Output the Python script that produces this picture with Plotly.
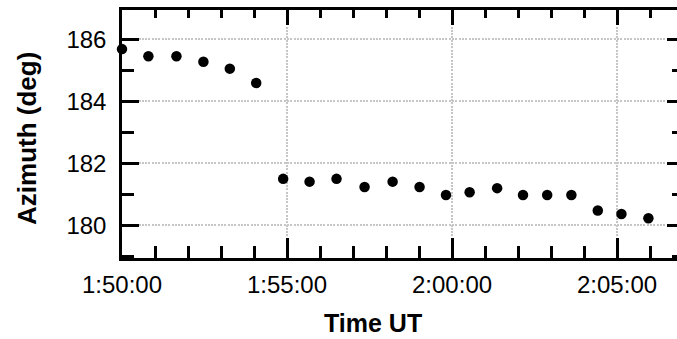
import plotly.graph_objects as go

# ---- data ----
times = ["01:50:00", "01:50:48", "01:51:39", "01:52:28", "01:53:16", "01:54:04",
         "01:54:53", "01:55:41", "01:56:30", "01:57:21", "01:58:12", "01:59:01",
         "01:59:49", "02:00:32", "02:01:22", "02:02:09", "02:02:53", "02:03:37",
         "02:04:25", "02:05:08", "02:05:57"]
azimuth = [185.68, 185.45, 185.45, 185.27, 185.05, 184.59,
           181.50, 181.41, 181.50, 181.24, 181.41, 181.24,
           180.98, 181.07, 181.20, 180.98, 180.98, 180.98,
           180.48, 180.37, 180.23]
y_ticks = [180, 182, 184, 186]
x_tick_times = ["01:50:00", "01:55:00", "02:00:00", "02:05:00"]
x_tick_labels = ["1:50:00", "1:55:00", "2:00:00", "2:05:00"]

day = "2024-01-01 "
x = [day + t for t in times]
x_range = [day + "01:50:00", day + "02:06:49"]
y_range = [178.95, 186.94]

FONT = "Liberation Sans, Arial, sans-serif"
GRID = "#c6c6c6"
LW = 2.5
INK = "black"

fig = go.Figure()
fig.add_trace(go.Scatter(x=x, y=azimuth, mode="markers",
                         marker=dict(color=INK, size=10.5, line=dict(width=0)),
                         cliponaxis=False, showlegend=False))
# invisible copy to register the mirrored (top/right) axes
fig.add_trace(go.Scatter(x=x, y=azimuth, mode="markers", xaxis="x2", yaxis="y2",
                         marker=dict(opacity=0), hoverinfo="skip", showlegend=False))

fig.update_layout(
    width=677, height=339,
    margin=dict(l=122, r=0, t=10, b=81),
    paper_bgcolor="white", plot_bgcolor="white",
    font=dict(family=FONT, size=24, color=INK),
    xaxis=dict(
        type="date", range=x_range,
        tickmode="array", tickvals=[day + t for t in x_tick_times],
        ticktext=x_tick_labels,
        ticks="inside", ticklen=20, tickwidth=LW, tickcolor=INK,
        showline=True, linewidth=LW, linecolor=INK,
        showgrid=True, gridcolor=GRID, gridwidth=2, griddash="2px,1.3px",
        zeroline=False, ticklabelstandoff=3,
        minor=dict(ticks="inside", ticklen=12, tickwidth=LW, tickcolor=INK,
                   dtick=60000, tick0=day + "01:50:00", showgrid=False),
    ),
    xaxis2=dict(
        type="date", range=x_range, overlaying="x", side="top", anchor="y",
        dtick=300000, tick0=day + "01:50:00",
        ticks="inside", ticklen=15, tickwidth=LW, tickcolor=INK,
        showline=True, linewidth=LW, linecolor=INK,
        showgrid=False, showticklabels=False, zeroline=False,
        minor=dict(ticks="inside", ticklen=8, tickwidth=LW, tickcolor=INK,
                   dtick=60000, tick0=day + "01:50:00", showgrid=False),
    ),
    yaxis=dict(
        range=y_range, tickmode="array", tickvals=y_ticks,
        ticks="inside", ticklen=17, tickwidth=LW, tickcolor=INK,
        showline=True, linewidth=LW, linecolor=INK,
        showgrid=True, gridcolor=GRID, gridwidth=2, griddash="2px,1.3px",
        zeroline=False, ticklabelstandoff=8,
        minor=dict(ticks="inside", ticklen=12, tickwidth=LW, tickcolor=INK,
                   dtick=1, tick0=180, showgrid=False),
    ),
    yaxis2=dict(
        range=y_range, overlaying="y", side="right", anchor="x",
        dtick=2, tick0=180,
        ticks="inside", ticklen=10, tickwidth=LW, tickcolor=INK,
        showline=False, showgrid=False, showticklabels=False, zeroline=False,
        minor=dict(ticks="inside", ticklen=5, tickwidth=LW, tickcolor=INK,
                   dtick=1, tick0=180, showgrid=False),
    ),
    annotations=[
        dict(text="<b>Time UT</b>", xref="paper", yref="paper",
             x=0.4514, y=-0.262, xanchor="center", yanchor="middle",
             showarrow=False, font=dict(family=FONT, size=25, color=INK)),
        dict(text="<b>Azimuth (deg)</b>", xref="paper", yref="paper",
             x=-0.1703, y=0.482, xanchor="center", yanchor="middle", textangle=-90,
             showarrow=False, font=dict(family=FONT, size=26, color=INK)),
    ],
)

fig.write_html("out.html")
